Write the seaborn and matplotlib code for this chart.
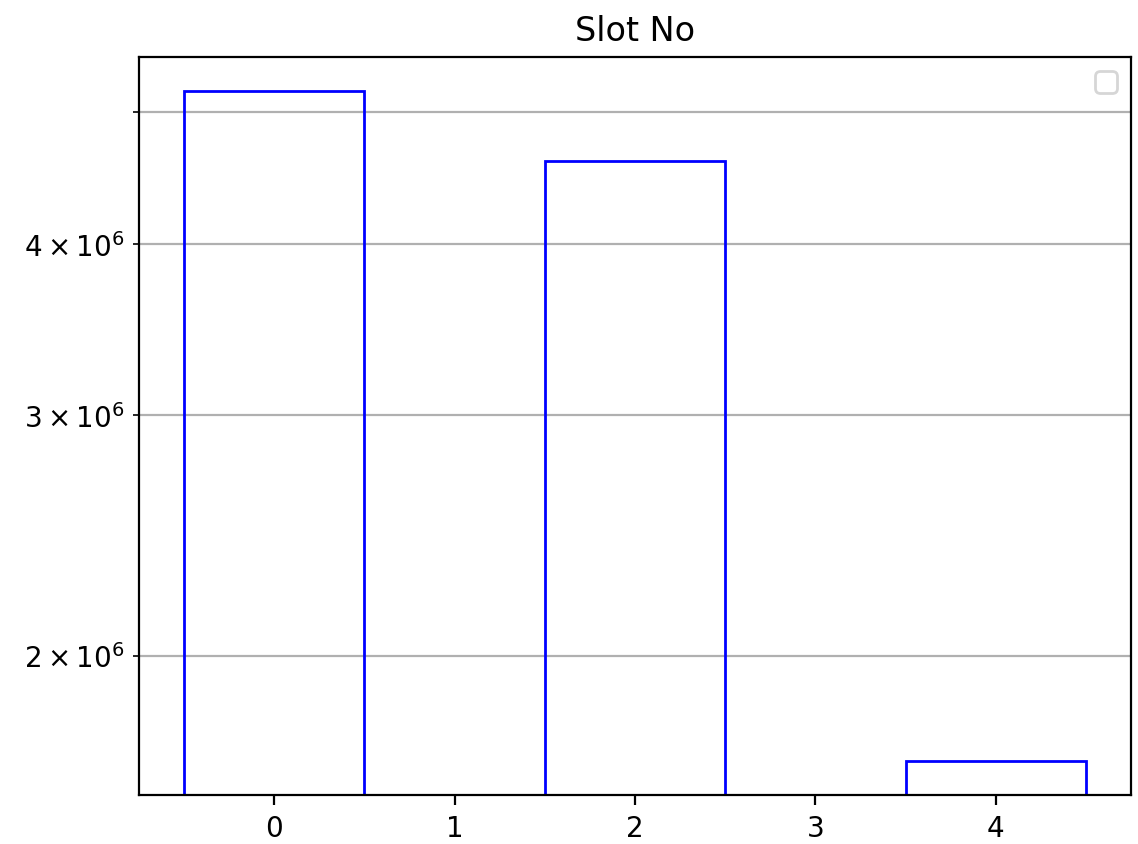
import warnings

import matplotlib
matplotlib.use("Agg")
import matplotlib.pyplot as plt
import pandas as pd
import seaborn as sns

# Totals per slot number
slot_no = [0, 2, 4]
totals = [5.183e6, 4.600e6, 1.673e6]

df = pd.DataFrame({"Slot No": slot_no, "Total": totals})

W, H, DPI = 1138, 845, 200
fig = plt.figure(figsize=(W / DPI, H / DPI), dpi=DPI)
ax = fig.add_axes([139 / W, (H - 796) / H, 992 / W, 738 / H])

sns.histplot(
    data=df, x="Slot No", weights="Total", discrete=True,
    fill=False, color="blue", linewidth=1.0, ax=ax,
)
ax.set_yscale("log")
ax.grid(axis="y", which="both")
ax.set_axisbelow(True)
ax.set_xlabel("")
ax.set_ylabel("")
ax.set_title("Slot No", fontsize=12)

with warnings.catch_warnings():
    warnings.simplefilter("ignore")
    ax.legend()

fig.savefig("out.png", dpi=DPI)
